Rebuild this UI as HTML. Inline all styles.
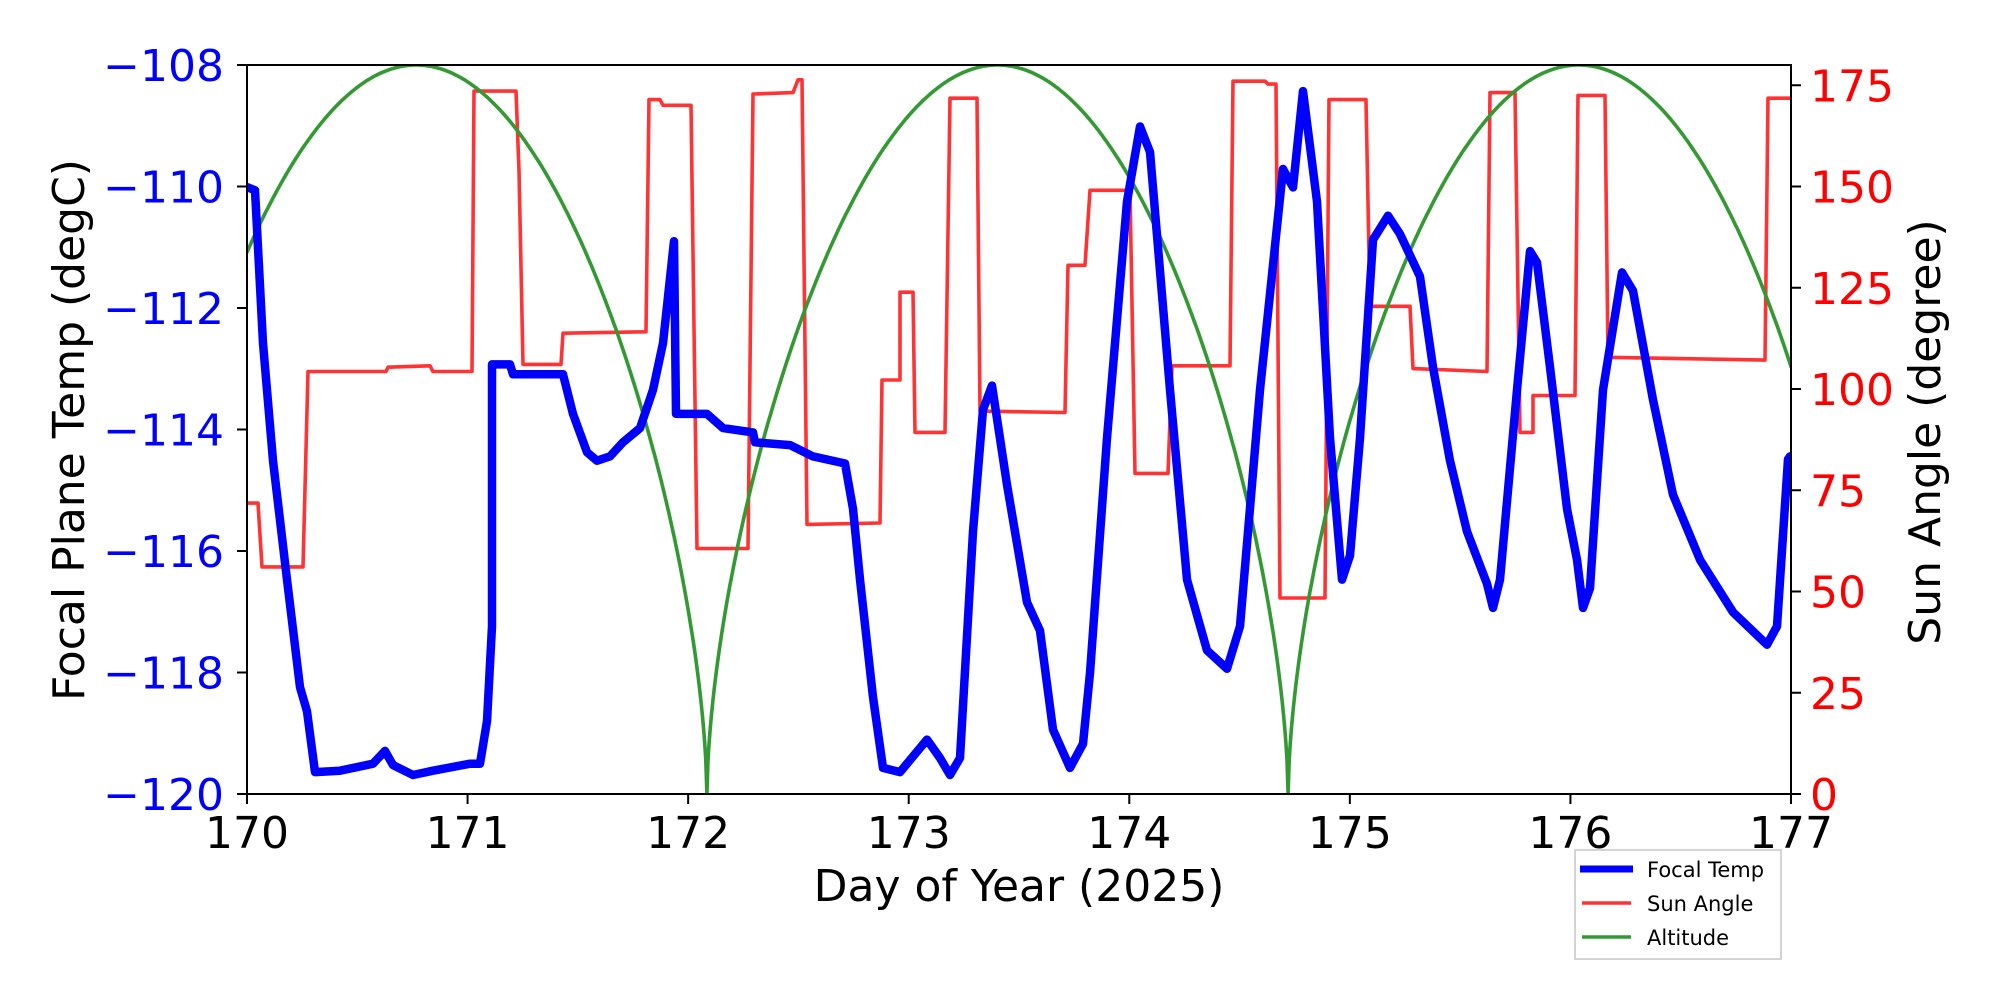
<!DOCTYPE html>
<html><head><meta charset="utf-8"><style>
html,body{margin:0;padding:0;background:#fff;}
svg{display:block;}
text{font-family:"DejaVu Sans","Liberation Sans",sans-serif;}
</style></head><body>
<svg id="s" width="2000" height="1000" viewBox="0 0 2000 1000" xmlns="http://www.w3.org/2000/svg">
<rect width="2000" height="1000" fill="#fff"/>
<defs><clipPath id="c"><rect x="247" y="65" width="1544" height="729"/></clipPath></defs>
<g clip-path="url(#c)" fill="none" stroke-linejoin="round" stroke-linecap="round">
<polyline class="fix" stroke="#ff3333" stroke-width="3.6" points="247,373 258,373 262,418 303,418 308,280 386,280 388,277 430,276 433,280 472,280 474,82 516,82 519,138 523,275 561,275 563,253 646,252 649,88 660,88 663,92 691,92 697,405 748,405 753,84 793,83 798,74 802,74 807,388 880,387 882,286 900,286 900,224 913,224 915,323 945,323 950,87 977,87 980,308 1065,309 1068,205 1085,205 1090,152 1130,152 1135,352 1168,352 1172,276 1230,276 1233,75 1265,75 1268,77 1276,77 1280,440 1325,440 1329,88 1366,88 1370,234 1410,234 1413,278 1487,280 1490,83 1515,83 1520,323 1533,323 1533,297 1575,297 1578,85 1605,85 1608,270 1765,272 1768,87 1792,87"/>
<polyline id="g" stroke="#339933" stroke-width="3.6" points=""/>
<polyline class="fix" stroke="#0000ff" stroke-width="8.5" points="248,150 255,152 263,260 273,343 287,427 300,503 307,520 315,563 340,562 373,557 385,548 393,558 413,565 433,562 470,557 480,557 487,527 492,460 492,275 510,275 513,282 563,282 573,310 587,337 597,343 610,340 623,330 640,320 653,293 663,260 674,188 676,310 707,310 723,320 753,323 755,330 790,332 813,340 845,345 853,377 860,427 873,510 883,560 900,563 927,540 940,553 950,565 960,553 973,393 983,307 992,290 1007,360 1027,443 1040,463 1053,533 1070,560 1083,543 1090,493 1107,327 1127,160 1140,107 1150,125 1170,293 1187,427 1207,477 1227,490 1240,460 1260,293 1283,137 1293,150 1303,82 1317,160 1330,327 1342,427 1350,410 1360,327 1373,187 1388,170 1400,183 1420,213 1433,277 1450,343 1467,393 1487,430 1493,447 1500,427 1517,293 1530,195 1537,203 1550,277 1567,377 1577,413 1583,447 1590,433 1603,293 1622,210 1633,223 1653,300 1673,367 1700,413 1733,450 1767,473 1777,460 1788,342 1790,340"/>
</g>
<rect x="247" y="65" width="1544" height="729" fill="none" stroke="#000" stroke-width="2"/>
<g id="ticks" stroke="#000" stroke-width="2"></g>
<g id="labels" font-size="44"></g>
<text x="1019" y="901" font-size="44" text-anchor="middle">Day of Year (2025)</text>
<text transform="translate(84,430) rotate(-90)" font-size="44" text-anchor="middle">Focal Plane Temp (degC)</text>
<text transform="translate(1940,432) rotate(-90)" font-size="44" text-anchor="middle">Sun Angle (degree)</text>
<rect x="1575" y="850" width="206" height="109" fill="#fff" stroke="#d4d4d4" stroke-width="2"/>
<line x1="1580" y1="869" x2="1633" y2="869" stroke="#0000ff" stroke-width="7"/>
<line x1="1582" y1="903" x2="1631" y2="903" stroke="#ff3333" stroke-width="3.5"/>
<line x1="1582" y1="937" x2="1631" y2="937" stroke="#339933" stroke-width="3.5"/>
<text x="1647" y="877" font-size="21">Focal Temp</text>
<text x="1647" y="911" font-size="21">Sun Angle</text>
<text x="1647" y="945" font-size="21">Altitude</text>
</svg>
<script>
var NS="http://www.w3.org/2000/svg";
var fx=document.querySelectorAll(".fix");
for(var j=0;j<fx.length;j++){var p=fx[j].getAttribute("points").trim().split(/\s+/).map(function(s){var a=s.split(",");var y=60+(parseFloat(a[1])-60)*1.4158;return a[0]+","+y.toFixed(1);});fx[j].setAttribute("points",p.join(" "));}
function X(t){return 247+(t-170)*220.57;}
var pts=[];
for(var i=0;i<=1400;i++){var t=170+7*i/1400;var s=Math.abs(Math.sin(Math.PI*(t-169.45)/2.635));var a=180*Math.pow(s,0.6);pts.push(X(t).toFixed(1)+","+(794-a*4.05).toFixed(1));}
document.getElementById("g").setAttribute("points",pts.join(" "));
var tk=document.getElementById("ticks"),lb=document.getElementById("labels");
function line(x1,y1,x2,y2){var l=document.createElementNS(NS,"line");l.setAttribute("x1",x1);l.setAttribute("y1",y1);l.setAttribute("x2",x2);l.setAttribute("y2",y2);tk.appendChild(l);}
function txt(x,y,s,anchor,fill){var e=document.createElementNS(NS,"text");e.setAttribute("x",x);e.setAttribute("y",y);e.setAttribute("text-anchor",anchor);e.setAttribute("fill",fill);e.textContent=s;lb.appendChild(e);}
for(var d=170;d<=177;d++){var x=X(d);line(x,794,x,804);txt(x,848,String(d),"middle","#000");}
for(var k=0;k<=6;k++){var y=65+k*121.5;line(237,y,247,y);txt(224,y+16,"\u2212"+(108+2*k),"end","#0000ff");}
for(var v=0;v<=175;v+=25){var y=794-v*4.05;line(1791,y,1801,y);txt(1810,y+16,String(v),"start","#ff0000");}
</script>
</body></html>
